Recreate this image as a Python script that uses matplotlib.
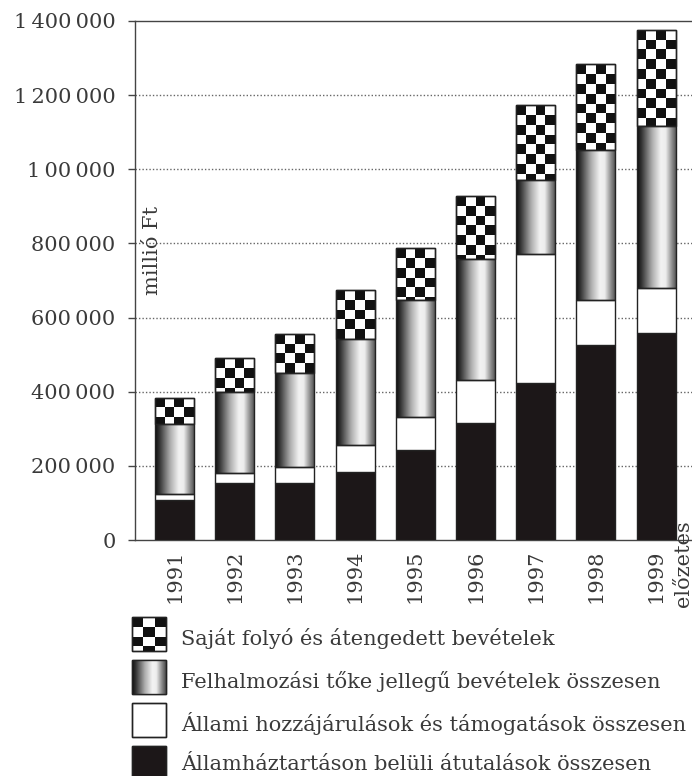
import numpy as np
import matplotlib
matplotlib.use('Agg')
import matplotlib.pyplot as plt
from matplotlib.patches import Rectangle
from matplotlib.collections import PatchCollection

years = ['1991', '1992', '1993', '1994', '1995', '1996', '1997', '1998', '1999']
# millió Ft, bottom segment first
transfers = [108000, 155000, 153000, 183000, 243000, 315000, 423000, 527000, 558000]
state_support = [15000, 27000, 45000, 72000, 90000, 117000, 348000, 120000, 121000]
capital_revenue = [189000, 218000, 253000, 288000, 314000, 325000, 200000, 405000, 438000]
own_revenue = [72000, 90000, 105000, 131000, 140000, 171000, 202000, 231000, 259000]

y_ticks = [0, 200000, 400000, 600000, 800000, 1000000, 1200000, 1400000]
y_tick_labels = ['0', '200\u2009000', '400\u2009000', '600\u2009000', '800\u2009000',
                 '1\u200900\u2009000', '1\u2009200\u2009000', '1\u2009400\u2009000']
legend_labels = ['Saját folyó és átengedett bevételek',
                 'Felhalmozási tőke jellegű bevételek összesen',
                 'Állami hozzájárulások és támogatások összesen',
                 'Államháztartáson belüli átutalások összesen']

plt.rcParams['font.family'] = 'DejaVu Serif'
TEXT = '#3a3a3a'
DARK = '#1c1718'
EDGE = '#222222'

W, H = 692, 776
fig = plt.figure(figsize=(W / 100, H / 100), dpi=100)
ax = fig.add_axes([135 / W, 1 - 540 / H, 557 / W, 519 / H])
xlim = (-0.656, 8.596)
ylim = (0, 1400000)

# size of one checker square, kept square on screen
cell_px = 0.65 * 557 / (xlim[1] - xlim[0]) / 4
cell_y = cell_px * (ylim[1] - ylim[0]) / 519

shade = np.interp(np.linspace(0, 1, 80),
                  [0, 0.12, 0.38, 0.6, 0.72, 0.88, 1.0],
                  [0.05, 0.22, 0.68, 0.95, 0.93, 0.55, 0.3])


def fill_checker(axis, patch, x0, y0, w, h, cell_w, cell_h):
    cols = max(1, int(round(w / cell_w)))
    cw = w / cols
    rows = int(np.ceil(h / cell_h))
    top = y0 + h
    squares = []
    for r in range(rows):
        for c in range(cols):
            if (r + c) % 2 == 0:
                squares.append(Rectangle((x0 + c * cw, top - (r + 1) * cell_h), cw, cell_h))
    coll = PatchCollection(squares, facecolor='#111111', edgecolor='none',
                           antialiased=False, zorder=2)
    axis.add_collection(coll)
    coll.set_clip_path(patch)


def fill_gradient(axis, patch, x0, y0, w, h):
    im = axis.imshow(shade[np.newaxis, :], cmap='gray', vmin=0, vmax=1,
                     extent=(x0, x0 + w, y0, y0 + h), interpolation='bilinear',
                     aspect='auto', zorder=2)
    im.set_clip_path(patch)


x = np.arange(len(years))
width = 0.65
bottom = np.zeros(len(years))

ax.bar(x, transfers, width, bottom=bottom, color=DARK, edgecolor=EDGE, linewidth=1, zorder=3)
bottom += transfers
ax.bar(x, state_support, width, bottom=bottom, color='white', edgecolor=EDGE, linewidth=1, zorder=3)
bottom += state_support

bars = ax.bar(x, capital_revenue, width, bottom=bottom, facecolor='none', edgecolor=EDGE,
              linewidth=1, zorder=3)
for patch in bars.patches:
    fill_gradient(ax, patch, patch.get_x(), patch.get_y(), patch.get_width(), patch.get_height())
bottom += capital_revenue

bars = ax.bar(x, own_revenue, width, bottom=bottom, facecolor='white', edgecolor=EDGE,
              linewidth=1, zorder=1.5)
for patch in bars.patches:
    fill_checker(ax, patch, patch.get_x(), patch.get_y(), patch.get_width(), patch.get_height(),
                 width / 4, cell_y)
ax.bar(x, own_revenue, width, bottom=bottom, facecolor='none', edgecolor=EDGE,
       linewidth=1, zorder=3)

ax.set_xlim(*xlim)
ax.set_ylim(*ylim)

for v in y_ticks[1:-1]:
    ax.axhline(v, color='#666666', linewidth=1, linestyle=(0, (1, 1.5)), zorder=1)

ax.set_yticks(y_ticks)
ax.set_yticklabels(y_tick_labels)
ax.set_xticks(x)
ax.set_xticklabels(years, rotation=90)
ax.tick_params(axis='y', length=5, width=1, color='#444444', pad=9, labelsize=15, labelcolor=TEXT)
ax.tick_params(axis='x', length=0, pad=7, labelsize=15, labelcolor=TEXT)

for side in ['left', 'top', 'bottom']:
    ax.spines[side].set_color('#444444')
    ax.spines[side].set_linewidth(1)
ax.spines['right'].set_visible(False)

ax.text(-0.37, 780000, 'millió Ft', rotation=90, ha='center', va='center',
        fontsize=15, color=TEXT)
ax.text(8.46, -180000, 'előzetes', rotation=90, ha='center', va='bottom',
        fontsize=15, color=TEXT, clip_on=False)

# legend in figure pixels (y up)
lg = fig.add_axes([0, 0, 1, 1])
lg.axis('off')
swatch_tops = [617, 660, 703, 746]
baselines = [645, 688, 731, 770]
sx, sw, sh = 132, 34, 34
for i, label in enumerate(legend_labels):
    y0 = H - swatch_tops[i] - sh
    face = DARK if i == 3 else 'white'
    rect = Rectangle((sx, y0), sw, sh, facecolor=face, edgecolor=EDGE, linewidth=1, zorder=1)
    lg.add_patch(rect)
    if i == 0:
        fill_checker(lg, rect, sx, y0, sw, sh, cell_px, cell_px)
    elif i == 1:
        fill_gradient(lg, rect, sx, y0, sw, sh)
    lg.add_patch(Rectangle((sx, y0), sw, sh, facecolor='none', edgecolor=EDGE,
                           linewidth=1, zorder=3))
    lg.text(181, H - baselines[i], label, ha='left', va='baseline', fontsize=15, color=TEXT)
lg.set_xlim(0, W)
lg.set_ylim(0, H)

fig.savefig('out.png', dpi=100)
